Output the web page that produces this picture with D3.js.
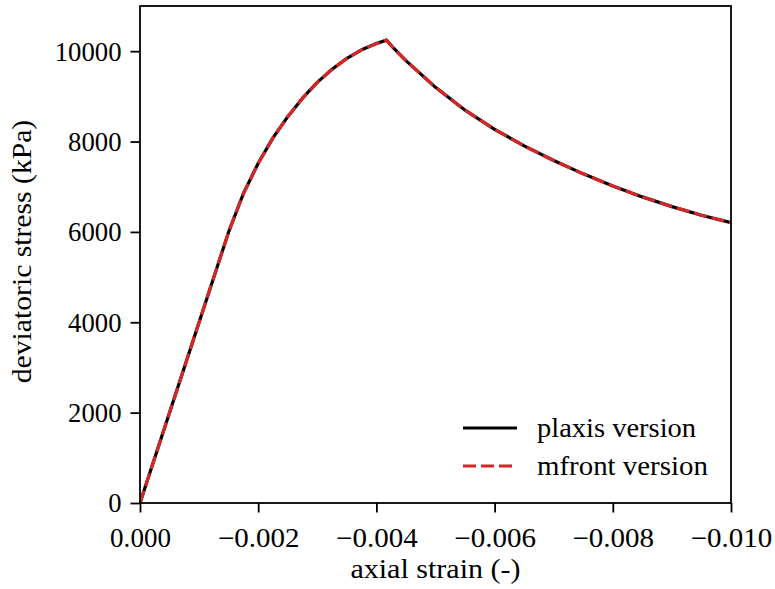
<!DOCTYPE html>
<html>
<head>
<meta charset="utf-8">
<script src="https://cdn.jsdelivr.net/npm/d3@7"></script>
<style>
  html, body { margin: 0; padding: 0; background: #fff; }
  svg text { font-family: "Liberation Serif", "DejaVu Serif", serif; fill: #000; }
</style>
</head>
<body>
<svg id="chart" width="775" height="589"></svg>
<script>
// ---- data ----
const strain = [0, -0.0015, -0.00175, -0.0020, -0.00225, -0.0025, -0.00275, -0.0030, -0.00325, -0.0035,
  -0.00375, -0.0040, -0.00417, -0.0043, -0.0045, -0.0050, -0.0055, -0.0060, -0.0065, -0.0070,
  -0.0075, -0.0080, -0.0085, -0.0090, -0.0095, -0.0100];
const plaxisStress = [0, 6000, 6850, 7520, 8080, 8550, 8960, 9310, 9600, 9840,
  10030, 10170, 10245, 10055, 9790, 9200, 8695, 8270, 7905, 7580,
  7285, 7015, 6775, 6560, 6370, 6205];
const mfrontStress = [0, 6000, 6850, 7520, 8080, 8550, 8960, 9310, 9600, 9840,
  10030, 10170, 10245, 10055, 9790, 9200, 8695, 8270, 7905, 7580,
  7285, 7015, 6775, 6560, 6370, 6205];
const xTicks = [0, -0.002, -0.004, -0.006, -0.008, -0.010];
const yTicks = [0, 2000, 4000, 6000, 8000, 10000];
const seriesNames = ["plaxis version", "mfront version"];

// ---- layout ----
const L = 140, R = 731, T = 6, B = 503;
const EM = 26.7; // reference text size
const svg = d3.select("#chart");
const x = d3.scaleLinear().domain([0, -0.010]).range([L, R]);
const y = d3.scaleLinear().domain([0, 11000]).range([B, T]);

// approximate advance widths of the reference serif face (em units), used to fit text widths
const W = { "0": .5, "1": .5, "2": .5, "3": .5, "4": .5, "5": .5, "6": .5, "7": .5, "8": .5, "9": .5,
  ".": .278, "\u2212": .778, " ": .333, "(": .389, ")": .389, "-": .333,
  a: .5, c: .444, d: .556, e: .444, f: .306, i: .278, k: .528, l: .278, m: .833, n: .556, o: .5,
  p: .556, r: .392, s: .394, t: .389, v: .528, x: .528, P: .681 };
const fitW = s => Array.from(s).reduce((a, c) => a + (W[c] || .5), 0) * EM;
function fit(sel) {
  sel.each(function () {
    const t = d3.select(this);
    t.attr("textLength", fitW(t.text()).toFixed(1)).attr("lengthAdjust", "spacingAndGlyphs");
  });
}

const fmtX = d => d === 0 ? "0.000" : "\u2212" + Math.abs(d).toFixed(3);

// axes
const xAxis = svg.append("g").attr("transform", `translate(0,${B})`)
  .call(d3.axisBottom(x).tickValues(xTicks).tickFormat(fmtX).tickSize(9.5).tickPadding(9));
const yAxis = svg.append("g").attr("transform", `translate(${L},0)`)
  .call(d3.axisLeft(y).tickValues(yTicks).tickFormat(d => String(d)).tickSize(9.5).tickPadding(9));
[xAxis, yAxis].forEach(g => {
  g.select(".domain").remove();
  g.selectAll("line").attr("stroke", "#000").attr("stroke-width", 1.8);
  g.selectAll("text").style("font-size", "27px").style("font-family", "'Liberation Serif', serif").call(fit);
});
xAxis.selectAll("text").attr("dy", "0.95em");
yAxis.selectAll("text").attr("dy", "0.33em");

// lines
const data = strain.map((s, i) => ({ s, p: plaxisStress[i], m: mfrontStress[i] }));
const lineP = d3.line().x(d => x(d.s)).y(d => y(d.p));
const lineM = d3.line().x(d => x(d.s)).y(d => y(d.m));

svg.append("clipPath").attr("id", "clip").append("rect")
  .attr("x", L).attr("y", T).attr("width", R - L).attr("height", B - T);
const plot = svg.append("g").attr("clip-path", "url(#clip)");
plot.append("path").datum(data).attr("d", lineP)
  .attr("fill", "none").attr("stroke", "#000").attr("stroke-width", 3.2).attr("stroke-linejoin", "round");
plot.append("path").datum(data).attr("d", lineM)
  .attr("fill", "none").attr("stroke", "#d62728").attr("stroke-width", 3.2)
  .attr("stroke-dasharray", "13,5");

// frame
svg.append("rect").attr("x", L).attr("y", T).attr("width", R - L).attr("height", B - T)
  .attr("fill", "none").attr("stroke", "#000").attr("stroke-width", 1.8);

// axis labels
svg.append("text").attr("x", (L + R) / 2).attr("y", 578).attr("text-anchor", "middle")
  .style("font-size", "27px").text("axial strain (-)").call(fit);
svg.append("text").attr("transform", `translate(31,${(T + B) / 2 - 3}) rotate(-90)`)
  .attr("text-anchor", "middle").style("font-size", "27px").text("deviatoric stress (kPa)").call(fit);

// legend
const leg = svg.append("g");
const legY = [428, 466];
leg.append("line").attr("x1", 463).attr("x2", 517).attr("y1", legY[0]).attr("y2", legY[0])
  .attr("stroke", "#000").attr("stroke-width", 3.2);
leg.append("line").attr("x1", 463).attr("x2", 517).attr("y1", legY[1]).attr("y2", legY[1])
  .attr("stroke", "#d62728").attr("stroke-width", 3.2).attr("stroke-dasharray", "13,5");
seriesNames.forEach((n, i) => {
  leg.append("text").attr("x", 537).attr("y", legY[i] + 9).style("font-size", "27px").text(n).call(fit);
});
</script>
</body>
</html>
